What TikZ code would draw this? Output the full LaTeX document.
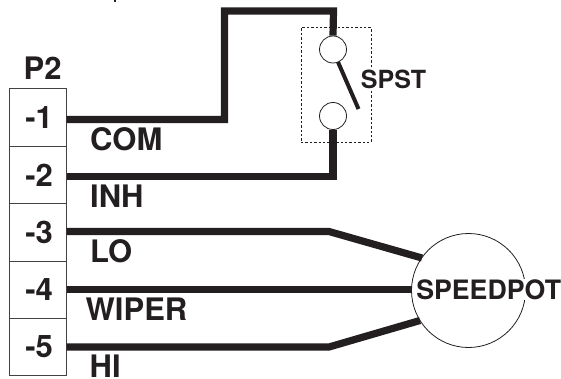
\documentclass[tikz,border=0pt]{standalone}
\usepackage{fontspec}
\setmainfont{TeX Gyre Heros}
\definecolor{ink}{HTML}{231F20}
\tikzset{
 wire/.style={draw=ink,line width=7.2pt,line join=miter},
 thin box/.style={draw=ink!85,line width=.8pt},
 pin/.style={thin box,minimum width=57.5pt,minimum height=57.4pt,inner sep=0pt,font=\bfseries\fontsize{31}{31}\selectfont,text=ink},
 lab/.style={inner sep=0pt,font=\bfseries\fontsize{31}{31}\selectfont,text=ink},
 contact/.style={circle,draw=ink,line width=.8pt,minimum size=27pt,inner sep=0pt,fill=white},
}
\begin{document}
\begin{tikzpicture}[x=1pt,y=-1pt]
\useasboundingbox (0,0) rectangle (561,379);
% remnant at the top edge of the reference
\fill[ink] (113.5,0) rectangle (116,1.8);
% connector pins
\node[pin] (p1) at (37.7,117.5) {\hspace{3pt}-1};
\node[pin] (p2) at (37.7,175) {\hspace{3pt}-2};
\node[pin] (p3) at (37.7,232.3) {\hspace{3pt}-3};
\node[pin] (p4) at (37.7,289.7) {\hspace{3pt}-4};
\node[pin] (p5) at (37.7,347) {\hspace{3pt}-5};
\node[lab] (title) at (42.7,68.5) {P2};
% switch
\node[draw=ink,line width=.7pt,dash pattern=on 2.4pt off 2pt,minimum width=70pt,minimum height=114.5pt,inner sep=0pt] (swbox) at (336,85) {};
\node[contact] (s1) at (333,49.5) {};
\node[contact] (s2) at (333,116) {};
\coordinate (tip) at (358.5,109);
\coordinate (blade) at (338,62);
\draw[draw=ink,line width=4pt] (blade) -- (tip);
\node[inner sep=1pt,fill=white,font=\bfseries\fontsize{25}{25}\selectfont,text=ink] (spst) at (393.5,79.5) {SPST};
% pot
\node[circle,draw=ink,line width=.8pt,minimum size=114pt,inner sep=0pt,fill=white] (pot) at (468.5,290.5) {};
\node[fill=white,inner sep=.5pt,font=\bfseries\fontsize{26.7}{27}\selectfont,text=ink] (potlab) at (488.7,289.5) {SPEEDPOT};
% wire waypoints
\coordinate (c1) at (66.5,119.5);
\coordinate (c2) at (66.5,176.5);
\coordinate (c3) at (66.5,231.5);
\coordinate (c4) at (66.5,289.5);
\coordinate (c5) at (66.5,347);
\coordinate (a1) at (224.5,119.5);
\coordinate (a2) at (224.5,11);
\coordinate (a3) at (333.5,11);
\coordinate (b1) at (333,176.5);
\coordinate (l1) at (329,231.5);
\coordinate (l2) at (422,258);
\coordinate (h1) at (329,347);
\coordinate (h2) at (420,320.5);
\coordinate (w1) at (412,289.5);
\draw[wire] (c1) -- (a1) -- (a2) -- (a3) -- (s1.north);
\draw[wire] (c2) -- (b1) -- (s2.south);
\draw[wire] (c3) -- (l1) -- (l2);
\draw[wire] (c4) -- (w1);
\draw[wire] (c5) -- (h1) -- (h2);
% wire names
\node[lab,anchor=west] (com) at (90,139) {COM};
\node[lab,anchor=west] (inh) at (90,196) {INH};
\node[lab,anchor=west] (lo) at (90,251.5) {LO};
\node[lab,anchor=west] (wiper) at (85.5,309.5) {WIPER};
\node[lab,anchor=west] (hi) at (89.5,366.5) {HI};
\end{tikzpicture}
\end{document}
